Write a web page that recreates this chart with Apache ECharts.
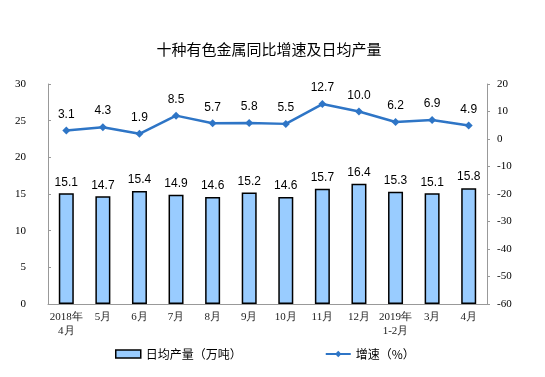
<!DOCTYPE html>
<html><head><meta charset="utf-8">
<script src="https://cdn.jsdelivr.net/npm/echarts@6/dist/echarts.min.js"></script>
<style>html,body{margin:0;padding:0;background:#fff}#c{width:545px;height:377px}</style>
</head><body><div id="c"></div>
<script>
const categories = ['2018年\n4月','5月','6月','7月','8月','9月','10月','11月','12月','2019年\n1-2月','3月','4月'];
const dailyOutput = [15.1,14.7,15.4,14.9,14.6,15.2,14.6,15.7,16.4,15.3,15.1,15.8];
const growth = [3.1,4.3,1.9,8.5,5.7,5.8,5.5,12.7,10.0,6.2,6.9,4.9];
const leftTicks = {min:0,max:30,interval:5};
const rightTicks = {min:-60,max:20,interval:10};
const chart = echarts.init(document.getElementById('c'));
const cjk = '"Noto Sans CJK SC", sans-serif';
const serif = '"Liberation Serif", "DejaVu Serif", serif';
chart.setOption({
  animation:false,
  title:{text:'十种有色金属同比增速及日均产量',left:264,textAlign:'center',top:37,
    textStyle:{fontFamily:cjk,fontSize:15,fontWeight:'normal',color:'#000'}},
  grid:{left:48,right:58,top:84,bottom:73},
  legend:{bottom:12,left:110,itemGap:83,textStyle:{fontFamily:cjk,fontSize:12,color:'#000'},
    data:[{name:'日均产量（万吨）',icon:'rect',itemStyle:{color:'#99CCFF',borderColor:'#000',borderWidth:1.5}},
          {name:'增速（%）'}],
    itemWidth:25,itemHeight:8},
  xAxis:{type:'category',data:categories,
    axisLine:{lineStyle:{color:'#999'}},
    axisTick:{inside:true,length:3,interval:0,lineStyle:{color:'#999'}},
    axisLabel:{interval:0,fontFamily:serif,fontSize:11,color:'#222',lineHeight:14,margin:6}},
  yAxis:[{type:'value',min:leftTicks.min,max:leftTicks.max,interval:leftTicks.interval,
    splitLine:{show:false},axisLine:{show:true,lineStyle:{color:'#999'}},
    axisTick:{show:true,inside:true,length:3,lineStyle:{color:'#999'}},
    axisLabel:{fontFamily:serif,fontSize:11,color:'#000',margin:22}},
   {type:'value',min:rightTicks.min,max:rightTicks.max,interval:rightTicks.interval,
    splitLine:{show:false},axisLine:{show:true,lineStyle:{color:'#999'}},
    axisTick:{show:true,inside:false,length:3,lineStyle:{color:'#999'}},
    axisLabel:{fontFamily:serif,fontSize:11,color:'#000',margin:10}}],
  series:[
   {name:'日均产量（万吨）',type:'bar',data:dailyOutput,barWidth:15,
    itemStyle:{color:'#99CCFF',borderColor:'#000',borderWidth:1.5},
    label:{show:true,position:'top',distance:5,formatter:p=>p.value.toFixed(1),
      fontFamily:'"Liberation Sans", Arial, sans-serif',fontSize:12,color:'#000'}},
   {name:'增速（%）',type:'line',yAxisIndex:1,data:growth,
    symbol:'diamond',symbolSize:8,
    lineStyle:{color:'#2E75C6',width:2.5},itemStyle:{color:'#2E75C6'},
    label:{show:true,position:'top',distance:6,formatter:p=>p.value.toFixed(1),
      fontFamily:'"Liberation Sans", Arial, sans-serif',fontSize:12,color:'#000'}}
  ]
});
</script></body></html>
